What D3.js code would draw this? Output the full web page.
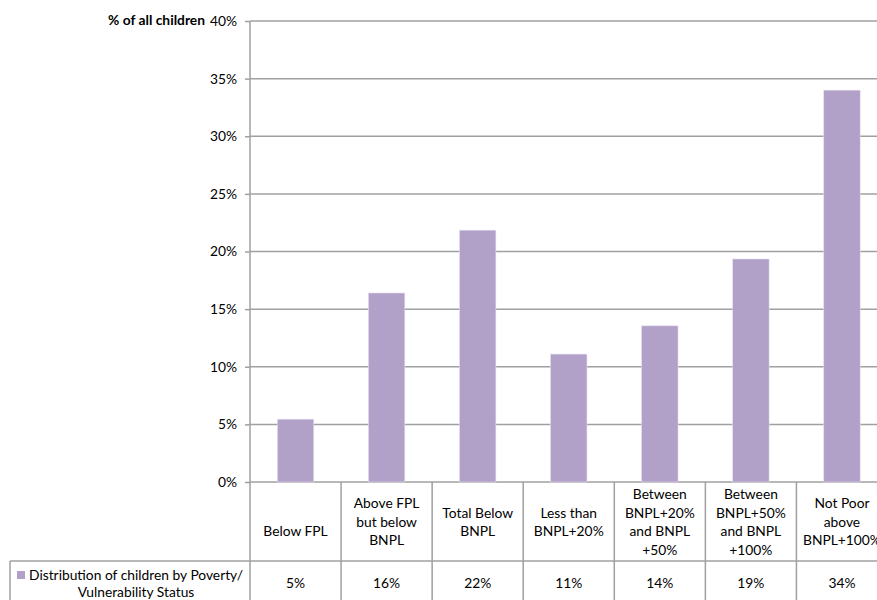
<!DOCTYPE html>
<html>
<head>
<meta charset="utf-8">
<script src="https://cdn.jsdelivr.net/npm/d3@7"></script>
<style>
  html, body { margin: 0; padding: 0; background: #fff; }
  svg { display: block; font-family: Lato, "Open Sans", sans-serif; }
</style>
</head>
<body>
<svg id="chart" width="877" height="600"></svg>
<script>
// Poverty / vulnerability categories (line breaks as shown in the table header)
const categories = [
  "Below FPL",
  "Above FPL\nbut below\nBNPL",
  "Total Below\nBNPL",
  "Less than\nBNPL+20%",
  "Between\nBNPL+20%\nand BNPL\n+50%",
  "Between\nBNPL+50%\nand BNPL\n+100%",
  "Not Poor\nabove\nBNPL+100%"
];
// Share of all children in each category (percent)
const values = [5.45, 16.4, 21.85, 11.1, 13.55, 19.35, 34.0];
const seriesName = ["Distribution of children by Poverty/", "Vulnerability Status"];
const yTicks = [0, 5, 10, 15, 20, 25, 30, 35, 40];
const axisTitle = "% of all children";

const svg = d3.select("#chart");
const W = 877, H = 600;
const plotLeft = 250, plotRight = 887.5, plotTop = 21, plotBottom = 482;
const rowSplit = 561;
const gridColor = "#a0a0a0";
const barColor = "#b1a0c7";
const fs = 13.8;

const keys = categories.map((c, i) => "c" + i);
const x = d3.scaleBand().domain(keys).range([plotLeft, plotRight]).paddingInner(0.6).paddingOuter(0.3);
const cols = d3.scaleBand().domain(keys).range([plotLeft, plotRight]);
const y = d3.scaleLinear().domain([0, 40]).range([plotBottom, plotTop]);

// gridlines + tick labels
const yAxis = d3.axisLeft(y).tickValues(yTicks).tickSize(5).tickFormat(d => d + "%");
const ag = svg.append("g").attr("transform", `translate(${plotLeft},0)`).call(yAxis);
ag.select(".domain").remove();
ag.selectAll(".tick line").attr("stroke", gridColor).attr("stroke-width", 1.5);
ag.selectAll(".tick text").attr("font-size", fs).attr("fill", "#000").attr("x", -13)
  .attr("font-family", "Lato, sans-serif");

svg.append("g").selectAll("line").data(yTicks).join("line")
  .attr("x1", plotLeft).attr("x2", W)
  .attr("y1", d => y(d)).attr("y2", d => y(d))
  .attr("stroke", gridColor).attr("stroke-width", 1.5);

// axis title
svg.append("text").attr("x", 205).attr("y", y(40)).attr("dy", "0.32em")
  .attr("text-anchor", "end").attr("font-weight", "bold").attr("font-size", fs)
  .text(axisTitle);

// bars
svg.append("g").selectAll("rect").data(values).join("rect")
  .attr("x", (d, i) => x(keys[i]))
  .attr("width", x.bandwidth())
  .attr("y", d => y(d))
  .attr("height", d => y(0) - y(d))
  .attr("fill", barColor)
  .attr("stroke", "#e6def0").attr("stroke-width", 0.6);

// data table
const tg = svg.append("g").attr("stroke", gridColor).attr("stroke-width", 1.5);
// vertical axis line continues through the table
tg.append("line").attr("x1", plotLeft).attr("x2", plotLeft).attr("y1", plotTop).attr("y2", H);
keys.forEach(k => {
  const xe = cols(k) + cols.bandwidth();
  tg.append("line").attr("x1", xe).attr("x2", xe).attr("y1", plotBottom).attr("y2", H);
});
tg.append("line").attr("x1", 10).attr("x2", W).attr("y1", rowSplit).attr("y2", rowSplit);
tg.append("line").attr("x1", 10).attr("x2", 10).attr("y1", rowSplit).attr("y2", H);

const lh = 18.5;
const headerMid = 522;
const hg = svg.append("g").attr("font-size", fs).attr("text-anchor", "middle");
categories.forEach((c, i) => {
  const lines = c.split("\n");
  const n = Math.max(lines.length, 2);
  const y0 = headerMid - (n - 1) / 2 * lh + (n - lines.length) * lh;
  const cx = cols(keys[i]) + cols.bandwidth() / 2;
  const t = hg.append("text").attr("x", cx);
  lines.forEach((ln, j) => {
    t.append("tspan").attr("x", cx)
      .attr("y", y0 + j * lh).attr("dy", "0.35em").text(ln);
  });
});

const fmt = d => Math.round(d) + "%";
svg.append("g").attr("font-size", fs).attr("text-anchor", "middle")
  .selectAll("text").data(values).join("text")
  .attr("x", (d, i) => cols(keys[i]) + cols.bandwidth() / 2)
  .attr("y", 583).attr("dy", "0.35em")
  .text(fmt);

// legend key + series name
const lgCenter = 136;
svg.append("rect").attr("x", 17).attr("y", 571).attr("width", 8).attr("height", 8).attr("fill", barColor);
svg.append("text").attr("x", lgCenter).attr("y", 575).attr("dy", "0.35em")
  .attr("font-size", fs).attr("text-anchor", "middle").text(seriesName[0]);
svg.append("text").attr("x", lgCenter).attr("y", 592).attr("dy", "0.35em")
  .attr("font-size", fs).attr("text-anchor", "middle").text(seriesName[1]);
</script>
</body>
</html>
